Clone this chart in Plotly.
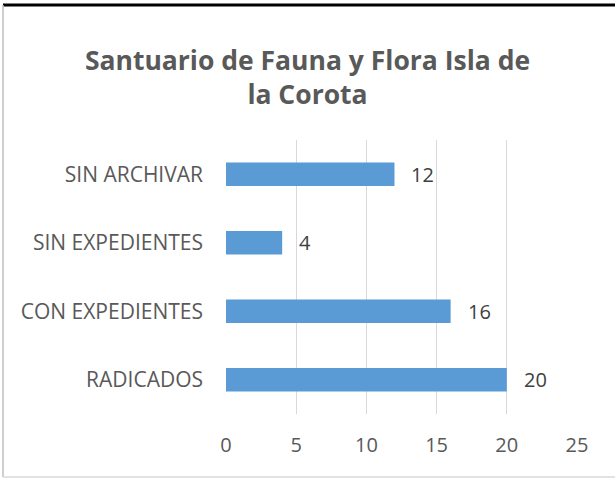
import plotly.graph_objects as go

categories = ["RADICADOS", "CON EXPEDIENTES", "SIN EXPEDIENTES", "SIN ARCHIVAR"]
values = [20, 16, 4, 12]
x_ticks = [0, 5, 10, 15, 20, 25]

W, H = 615, 479
ml, mr, mt, mb = 226, 38, 140, 65
ph = H - mt - mb
pw = W - ml - mr

def py(pix):
    return (H - mb - pix) / ph

def px(pix):
    return (pix - ml) / pw

FONT = "Open Sans"

fig = go.Figure(go.Bar(
    y=categories, x=values, orientation="h",
    marker=dict(color="#5B9BD5", line=dict(width=0)),
    width=0.34,
))

for c, v in zip(categories, values):
    fig.add_annotation(x=v, y=c, text=str(v), showarrow=False, xanchor="left",
                       xshift=15, font=dict(family=FONT, size=20, color="#404040"))

fig.update_layout(
    width=W, height=H,
    margin=dict(l=ml, r=mr, t=mt, b=mb),
    paper_bgcolor="white", plot_bgcolor="white",
    showlegend=False,
    title=dict(
        text="<b>Santuario de Fauna y Flora Isla de<br>la Corota</b>",
        x=0.5, xanchor="center", y=1 - 70 / H, yanchor="middle",
        font=dict(family=FONT, size=26.5, color="#595959"),
    ),
    xaxis=dict(
        range=[0, 25], tickvals=x_ticks, showgrid=True, gridcolor="#D9D9D9", gridwidth=1,
        zeroline=False, showline=False, ticks="",
        tickfont=dict(family=FONT, size=20, color="#595959"),
        ticklabelstandoff=17, fixedrange=True,
    ),
    yaxis=dict(
        showgrid=False, zeroline=False, showline=False, ticks="",
        tickfont=dict(family=FONT, size=21, color="#595959"),
        ticklabelstandoff=22, fixedrange=True,
    ),
    shapes=[
        dict(type="line", xref="paper", yref="paper", x0=px(3), x1=px(W), y0=py(5), y1=py(5),
             line=dict(color="black", width=3)),
        dict(type="line", xref="paper", yref="paper", x0=px(3), x1=px(3), y0=py(5), y1=py(477),
             line=dict(color="#BFBFBF", width=1.5)),
        dict(type="line", xref="paper", yref="paper", x0=px(3), x1=px(W), y0=py(477), y1=py(477),
             line=dict(color="#D9D9D9", width=1.5)),
    ],
)

fig.write_html("out.html", config={"displayModeBar": False},
               post_script="document.body.style.margin='0';document.body.style.overflow='hidden';")
